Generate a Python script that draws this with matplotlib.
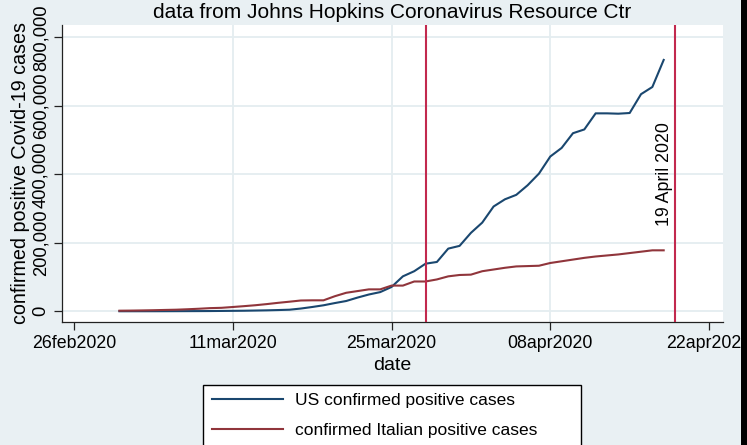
import matplotlib
matplotlib.use('Agg')
import matplotlib.pyplot as plt
import matplotlib.dates as mdates
from matplotlib.patches import Rectangle
from matplotlib import transforms
import numpy as np
import pandas as pd

plt.rcParams['font.family'] = ['Liberation Sans', 'DejaVu Sans']

# daily data, 1 Mar 2020 .. 18 Apr 2020
dates = pd.date_range('2020-03-01', '2020-04-18', freq='D')
us_cases = [75, 100, 124, 158, 221, 319, 435, 541, 704, 994,
            1301, 1630, 2183, 2770, 3613, 4596, 8000, 12500, 17500, 24000,
            30000, 40000, 49000, 56000, 71000, 102000, 117000, 139000, 144000, 183000,
            191000, 229000, 259000, 306000, 327000, 340000, 368000, 402000, 452000, 477000,
            520000, 531000, 578000, 578000, 577000, 579000, 634000, 655000, 734000]
it_cases = [1700, 2000, 2500, 3100, 3900, 4600, 5900, 7400, 9200, 10100,
            12500, 15000, 17700, 21000, 24700, 28000, 31500, 32000, 32000, 44000,
            54000, 59000, 64000, 64000, 75000, 75000, 87000, 87000, 93000, 102000,
            106000, 107000, 117000, 122000, 127000, 131000, 132000, 133000, 141000, 146000,
            151000, 156000, 160000, 163000, 166000, 170000, 174000, 178000, 178000]

tick_dates = pd.to_datetime(['2020-02-26', '2020-03-11', '2020-03-25', '2020-04-08', '2020-04-22'])
tick_labels = ['26feb2020', '11mar2020', '25mar2020', '08apr2020', '22apr2020']
y_ticks = [0, 200000, 400000, 600000, 800000]
y_labels = ['0', '200,000', '400,000', '600,000', '800,000']
event_dates = pd.to_datetime(['2020-03-28', '2020-04-19'])

bg = '#e9f0f3'
grid_c = '#e4edf0'

fig = plt.figure(figsize=(7.47, 4.45), dpi=100, facecolor=bg)
ax = fig.add_axes([62/747, 1-322/445, (723-62)/747, (322-25)/445])
ax.set_facecolor('white')

# grid (stata leaves out the lines at the plot edges)
for t in tick_dates[1:-1]:
    ax.axvline(t, color=grid_c, lw=1.3, zorder=0)
for v in y_ticks:
    ax.axhline(v, color=grid_c, lw=1.3, zorder=0)

l1, = ax.plot(dates, us_cases, color='#1a476f', lw=1.5, label='US confirmed positive cases')
l2, = ax.plot(dates, it_cases, color='#90353b', lw=1.5, label='confirmed Italian positive cases')

for d in event_dates:
    ax.axvline(d, color='#c2294e', lw=1.5, zorder=3)

off = transforms.offset_copy(ax.transData, fig=fig, x=-2, y=0, units='dots')
ax.text(event_dates[1], 400000, '19 April 2020', rotation=90, ha='right', va='center',
        fontsize=12.8, transform=off)

x0 = mdates.date2num(pd.Timestamp('2020-02-26')) - 1.06
x1 = mdates.date2num(pd.Timestamp('2020-04-22')) + 1.23
ax.set_xlim(x0, x1)
ax.set_ylim(-31300, 836000)

ax.set_xticks(tick_dates)
ax.set_xticklabels(tick_labels, fontsize=12.8)
ax.set_yticks(y_ticks)
ax.set_yticklabels(y_labels, fontsize=13.2, rotation=90, va='center')
ax.tick_params(axis='both', length=6, width=0.9, color='#222222', pad=3)

for s in ['top', 'right']:
    ax.spines[s].set_visible(False)
for s in ['left', 'bottom']:
    ax.spines[s].set_linewidth(0.9)
    ax.spines[s].set_color('#222222')

ax.set_xlabel('date', fontsize=14, labelpad=4)
ax.set_ylabel('confirmed positive Covid-19 cases', fontsize=14.2, labelpad=2)

fig.text(392/747, 1-12/445, 'data from Johns Hopkins Coronavirus Resource Ctr',
         ha='center', va='center', fontsize=15)

leg = fig.legend(handles=[l1, l2], loc='upper left',
                 bbox_to_anchor=(203/747, 1-385/445, (581-203)/747, 0.001),
                 mode='expand', fontsize=12.5, handlelength=4.1, handletextpad=0.7,
                 labelspacing=0.84, borderpad=0.5, borderaxespad=0,
                 fancybox=False, framealpha=1, edgecolor='black')
leg.get_frame().set_linewidth(1.0)

# dark strip on the right edge of the screenshot
fig.add_artist(Rectangle((741/747, 0), 6/747, 1, transform=fig.transFigure,
                         facecolor='black', edgecolor='none', zorder=10))

fig.savefig('out.png', dpi=100, facecolor=bg)
